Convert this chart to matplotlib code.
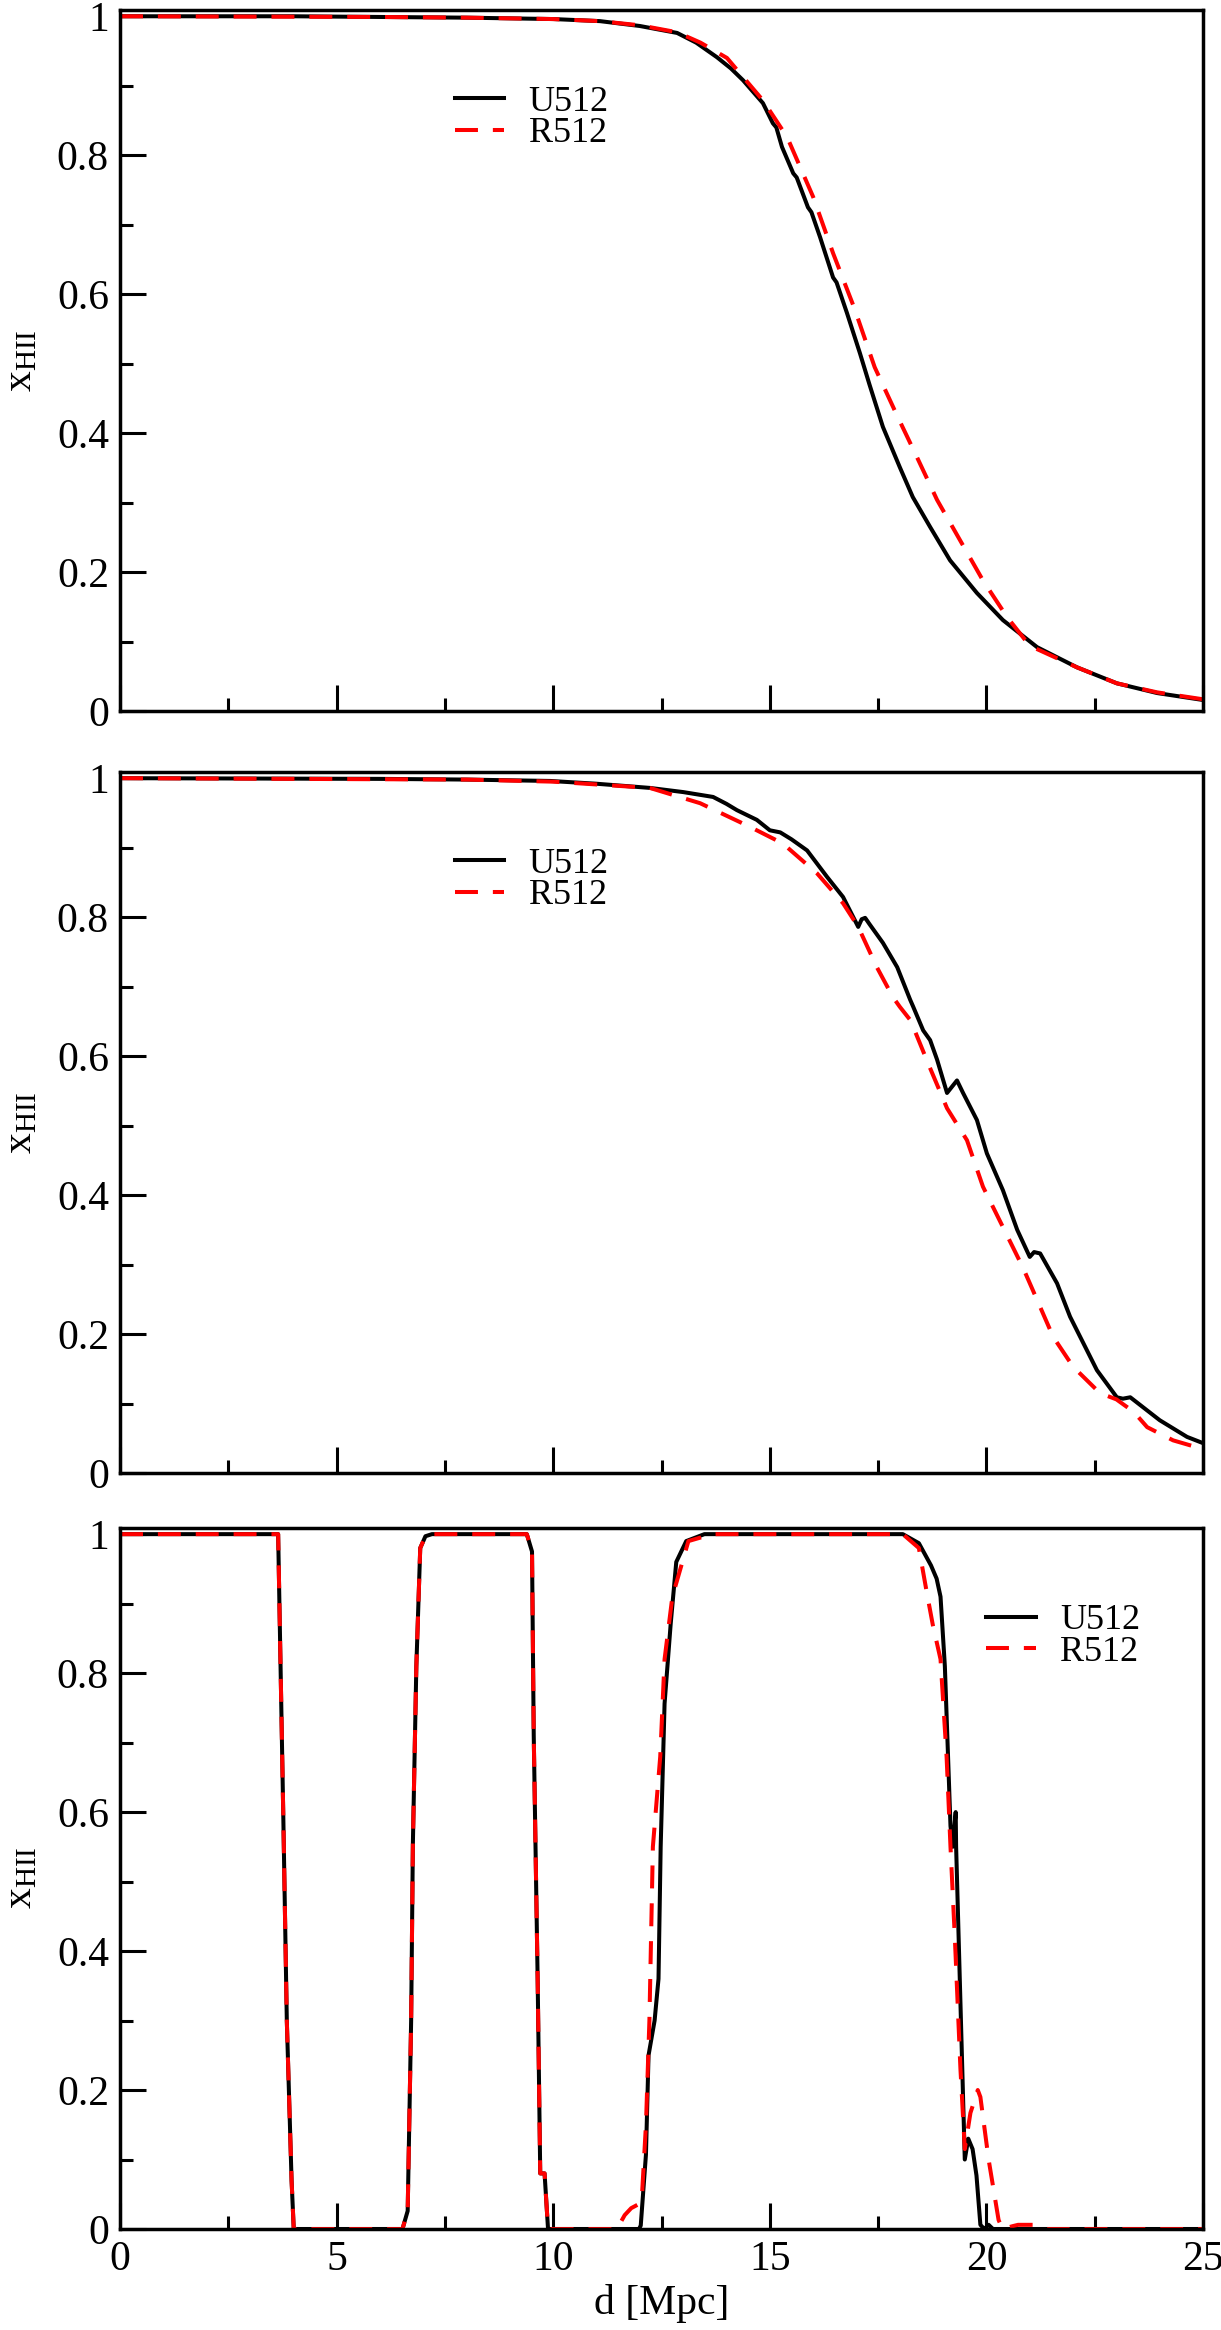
import matplotlib
matplotlib.use('Agg')
import matplotlib.pyplot as plt
from matplotlib.ticker import MultipleLocator, FuncFormatter
from matplotlib.lines import Line2D

plt.rcParams['font.family'] = ['Liberation Serif', 'DejaVu Serif']
plt.rcParams['mathtext.fontset'] = 'custom'
plt.rcParams['mathtext.rm'] = 'Liberation Serif'
plt.rcParams['mathtext.it'] = 'Liberation Serif:italic'

# ---------------- data (d [Mpc], x_HII) ----------------
# Panel 1
p1_u_d = [0, 4, 6, 8, 9, 10, 11.08, 12.0, 12.86, 13.3, 13.78, 14.1, 14.38, 14.84, 15.07, 15.15,
          15.28, 15.54, 15.62, 15.88, 15.96, 16.16, 16.46, 16.54, 16.78, 17.08, 17.3, 17.61, 18.0,
          18.3, 18.7, 19.16, 19.78, 20.38, 21.17, 22.09, 23.01, 23.94, 25.0]
p1_u_x = [1.0, 1.0, 0.999, 0.998, 0.997, 0.996, 0.993, 0.986, 0.976, 0.962, 0.941, 0.925, 0.908,
          0.875, 0.846, 0.840, 0.812, 0.774, 0.768, 0.725, 0.718, 0.682, 0.624, 0.617, 0.573,
          0.515, 0.470, 0.409, 0.351, 0.308, 0.265, 0.217, 0.170, 0.131, 0.092, 0.063, 0.040,
          0.026, 0.016]
p1_r_d = [0, 6, 8, 10, 11.08, 12.0, 12.86, 13.4, 14.01, 14.84, 15.4, 16.0, 16.46, 16.95, 17.42,
          17.94, 18.4, 18.86, 19.39, 19.92, 20.48, 21.0, 22.09, 23.01, 23.94, 25.0]
p1_r_x = [1.0, 0.999, 0.998, 0.996, 0.993, 0.987, 0.977, 0.962, 0.940, 0.879, 0.826, 0.740,
          0.659, 0.580, 0.495, 0.425, 0.365, 0.304, 0.246, 0.188, 0.135, 0.094, 0.063, 0.040,
          0.027, 0.017]

# Panel 2
p2_u_d = [0, 6, 8, 9.93, 11.0, 12.23, 13.0, 13.69, 14.0, 14.24, 14.7, 15.0, 15.24, 15.5, 15.86,
          16.32, 16.69, 17.04, 17.12, 17.2, 17.3, 17.61, 17.94, 18.24, 18.31, 18.54, 18.7, 18.86,
          19.09, 19.32, 19.46, 19.78, 20.01, 20.38, 20.71, 21.0, 21.1, 21.24, 21.63, 21.93,
          22.55, 23.01, 23.15, 23.32, 24.0, 24.63, 25.0]
p2_u_x = [1.0, 0.999, 0.998, 0.996, 0.992, 0.986, 0.980, 0.973, 0.963, 0.954, 0.940, 0.925,
          0.922, 0.912, 0.896, 0.858, 0.829, 0.786, 0.797, 0.799, 0.790, 0.763, 0.728, 0.681,
          0.671, 0.637, 0.623, 0.595, 0.547, 0.565, 0.547, 0.508, 0.460, 0.407, 0.350, 0.311,
          0.318, 0.316, 0.273, 0.225, 0.148, 0.109, 0.107, 0.109, 0.076, 0.052, 0.043]
p2_r_d = [0, 8, 10, 12.23, 13.39, 14.54, 15.3, 16.09, 16.69, 17.04, 17.47, 17.84, 18.0, 18.24,
          18.31, 18.65, 19.09, 19.55, 19.92, 20.38, 20.84, 21.17, 21.54, 22.0, 22.62, 23.0,
          23.4, 23.71, 24.31, 24.86, 25.0]
p2_r_x = [1.0, 0.998, 0.995, 0.986, 0.964, 0.930, 0.906, 0.863, 0.820, 0.786, 0.728, 0.685,
          0.671, 0.652, 0.642, 0.590, 0.525, 0.479, 0.412, 0.354, 0.296, 0.249, 0.196, 0.153,
          0.115, 0.106, 0.088, 0.066, 0.047, 0.037, 0.035]

# Panel 3
p3_u_d = [0, 3.65, 3.77, 3.85, 3.96, 4.01, 6.52, 6.64, 6.72, 6.76, 6.84, 6.93, 7.05, 7.2, 9.39,
          9.51, 9.55, 9.64, 9.70, 9.80, 9.88, 11.98, 12.02, 12.14, 12.2, 12.34, 12.43, 12.48,
          12.57, 12.71, 12.84, 13.07, 13.49, 18.07, 18.44, 18.72, 18.85, 18.94, 19.04, 19.17,
          19.22, 19.29, 19.30, 19.5, 19.58, 19.68, 19.77, 19.86, 19.95, 20.05, 20.15, 25.0]
p3_u_x = [1.0, 1.0, 0.59, 0.30, 0.07, 0.0, 0.0, 0.026, 0.30, 0.554, 0.81, 0.98, 0.997, 1.0, 1.0,
          0.975, 0.71, 0.36, 0.08, 0.08, 0.0, 0.0, 0.005, 0.107, 0.25, 0.30, 0.36, 0.55,
          0.756, 0.87, 0.96, 0.99, 1.0, 1.0, 0.987, 0.955, 0.936, 0.91, 0.81, 0.58,
          0.55, 0.60, 0.55, 0.10, 0.13, 0.115, 0.077, 0.006, 0.0, 0.006, 0.0, 0.0]
p3_r_d = [0, 3.65, 3.77, 3.85, 3.96, 4.01, 6.52, 6.64, 6.72, 6.76, 6.84, 6.93, 7.05, 7.2, 9.39,
          9.51, 9.55, 9.64, 9.70, 9.80, 9.88, 11.47, 11.65, 11.8, 11.95, 12.05, 12.14, 12.22,
          12.3, 12.47, 12.57, 12.75, 13.12, 13.67, 18.07, 18.44, 18.62, 18.76, 18.94, 19.08,
          19.17, 19.27, 19.4, 19.5, 19.63, 19.8, 19.86, 20.05, 20.28, 20.37, 20.6, 20.73,
          21.19, 21.4, 25.0]
p3_r_x = [1.0, 1.0, 0.59, 0.30, 0.07, 0.0, 0.0, 0.026, 0.30, 0.554, 0.81, 0.98, 0.997, 1.0, 1.0,
          0.975, 0.71, 0.36, 0.08, 0.08, 0.0, 0.0, 0.02, 0.03, 0.035, 0.05, 0.15, 0.30,
          0.55, 0.68, 0.82, 0.91, 0.99, 1.0, 1.0, 0.98, 0.917, 0.87, 0.82, 0.68,
          0.55, 0.42, 0.23, 0.115, 0.167, 0.20, 0.19, 0.10, 0.013, 0.0, 0.004, 0.006,
          0.006, 0.0, 0.0]

panels = [
    (p1_u_d, p1_u_x, p1_r_d, p1_r_x, (0.309, 0.846)),
    (p2_u_d, p2_u_x, p2_r_d, p2_r_x, (0.309, 0.846)),
    (p3_u_d, p3_u_x, p3_r_d, p3_r_x, (0.800, 0.845)),
]
labels = ['U512', 'R512']
ylabel = r'x$_{\mathrm{HII}}$'
xlabel = 'd [Mpc]'

# ---------------- figure ----------------
fig = plt.figure(figsize=(12.21, 23.30), dpi=100)
left, width, height = 0.0983, 0.887, 0.3009
bottoms = [0.6948, 0.3678, 0.04335]

LW = 2.9
for i, (ud, ux, rd, rx, legpos) in enumerate(panels):
    ax = fig.add_axes([left, bottoms[i], width, height])
    ax.plot(ud, ux, color='black', lw=LW, label=labels[0])
    ax.plot(rd, rx, color='red', lw=LW, dashes=(5.7, 3.7), label=labels[1])
    ax.set_xlim(0, 25)
    ax.set_ylim(0, 1.009)
    ax.xaxis.set_major_locator(MultipleLocator(5))
    ax.xaxis.set_minor_locator(MultipleLocator(2.5))
    ax.yaxis.set_major_locator(MultipleLocator(0.2))
    ax.yaxis.set_minor_locator(MultipleLocator(0.1))
    ax.yaxis.set_major_formatter(FuncFormatter(lambda v, p: '%g' % round(v, 3)))
    ax.xaxis.set_major_formatter(FuncFormatter(lambda v, p: '%g' % v))
    ax.tick_params(which='both', direction='in', top=False, right=False, width=2.2,
                   labelsize=30, pad=8, color='black')
    ax.tick_params(which='major', length=18.7)
    ax.tick_params(which='minor', length=9.4)
    for s in ax.spines.values():
        s.set_linewidth(2.5)
    if i < 2:
        ax.tick_params(axis='x', labelbottom=False)
    else:
        ax.set_xlabel(xlabel, fontsize=30, labelpad=4)
    ax.set_ylabel(ylabel, fontsize=30, labelpad=12)
    ax.legend(loc='center left', bbox_to_anchor=legpos, frameon=False, fontsize=26,
              handlelength=1.36, handletextpad=0.69, labelspacing=-0.05,
              borderpad=0, borderaxespad=0)

fig.savefig('out.png', dpi=100)
